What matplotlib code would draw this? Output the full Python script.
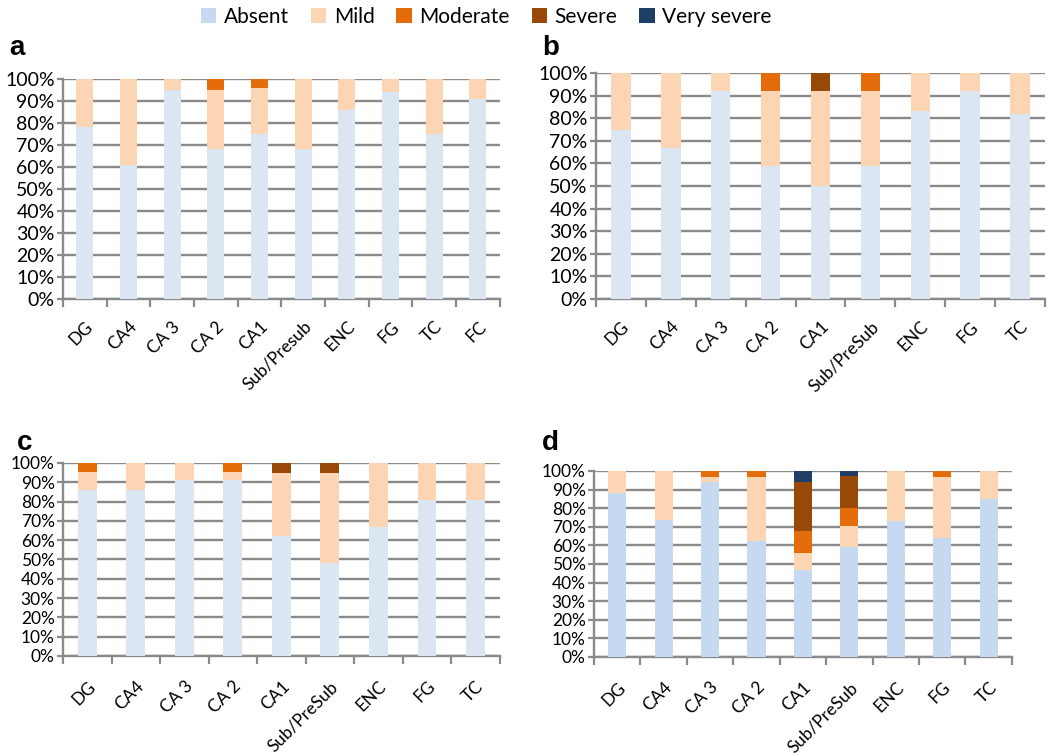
# -*- coding: utf-8 -*-
import numpy as np
import matplotlib.pyplot as plt
import matplotlib as mpl
from matplotlib.patches import Patch

mpl.rcParams['font.family'] = ['Lato', 'DejaVu Sans']

# 各面板的区域名称
regions_a = ['DG', 'CA4', 'CA 3', 'CA 2', 'CA1', 'Sub/Presub', 'ENC', 'FG', 'TC', 'FC']
regions_bcd = ['DG', 'CA4', 'CA 3', 'CA 2', 'CA1', 'Sub/PreSub', 'ENC', 'FG', 'TC']

# 面板 a（百分比）
absent_a = [78, 61, 95, 68, 75, 68, 86, 94, 75, 91]
mild_a = [22, 39, 5, 27, 21, 32, 14, 6, 25, 9]
moderate_a = [0, 0, 0, 5, 4, 0, 0, 0, 0, 0]
severe_a = [0] * 10
very_severe_a = [0] * 10

# 面板 b
absent_b = [75, 67, 92, 59, 50, 59, 83, 92, 82]
mild_b = [25, 33, 8, 33, 42, 33, 17, 8, 18]
moderate_b = [0, 0, 0, 8, 0, 8, 0, 0, 0]
severe_b = [0, 0, 0, 0, 8, 0, 0, 0, 0]
very_severe_b = [0] * 9

# 面板 c
absent_c = [86, 86, 91, 91, 62, 48, 67, 81, 81]
mild_c = [9.5, 14, 9, 4.5, 33, 47, 33, 19, 19]
moderate_c = [4.5, 0, 0, 4.5, 0, 0, 0, 0, 0]
severe_c = [0, 0, 0, 0, 5, 5, 0, 0, 0]
very_severe_c = [0] * 9

# 面板 d
absent_d = [88, 73.5, 94, 62.5, 47, 59, 73, 64, 85]
mild_d = [12, 26.5, 3, 34.5, 9, 11.5, 27, 33, 15]
moderate_d = [0, 0, 3, 3, 12, 9.5, 0, 3, 0]
severe_d = [0, 0, 0, 0, 26, 17.5, 0, 0, 0]
very_severe_d = [0, 0, 0, 0, 6, 2.5, 0, 0, 0]

levels = ['Absent', 'Mild', 'Moderate', 'Severe', 'Very severe']
colors = ['#dce6f2', '#fcd5b4', '#e46c0a', '#984807', '#1f3f66']
colors_d = ['#c6d9f0', '#fcd5b4', '#e46c0a', '#984807', '#1f3f66']

GRID = '#8a8a8a'


def plot_panel(fig, rect, letter, regions, series, cols, ysize, xpad, letter_pos):
    """
    绘制一个堆积百分比柱状图
    """
    ax = fig.add_axes(rect)
    x = np.arange(len(regions))
    bottom = np.zeros(len(regions))
    for vals, c in zip(series, cols):
        vals = np.array(vals, dtype=float)
        ax.bar(x, vals, 0.39, bottom=bottom, color=c, linewidth=0, zorder=3)
        bottom += vals
    ax.set_xlim(-0.5, len(regions) - 0.5)
    ax.set_ylim(0, 100)
    ax.set_yticks(np.arange(0, 101, 10))
    ax.set_yticklabels(['%d%%' % v for v in range(0, 101, 10)], fontsize=ysize)
    ax.yaxis.grid(True, color=GRID, linewidth=1.7, zorder=0)
    ax.set_axisbelow(True)
    for s in ['top', 'right']:
        ax.spines[s].set_visible(False)
    for s in ['left', 'bottom']:
        ax.spines[s].set_color(GRID)
        ax.spines[s].set_linewidth(1.7)
    ax.tick_params(axis='y', length=4, width=1.6, color=GRID, pad=2)
    # 类别标签（刻度线位于类别之间）
    ax.set_xticks(x)
    ax.set_xticklabels(regions, rotation=45, ha='right', va='top',
                       rotation_mode='anchor', fontsize=12.5)
    ax.tick_params(axis='x', which='major', length=0, pad=xpad)
    ax.set_xticks(np.arange(len(regions) + 1) - 0.5, minor=True)
    ax.tick_params(axis='x', which='minor', length=6, width=1.6, color=GRID)
    fig.text(letter_pos[0], letter_pos[1], letter, fontsize=20, fontweight='bold',
             family=['Liberation Sans', 'DejaVu Sans'], ha='left', va='baseline')
    return ax


def main():
    fig = plt.figure(figsize=(10.5, 7.56), dpi=100)

    plot_panel(fig, [0.060, 0.6045, 0.416, 0.291], 'a', regions_a,
               [absent_a, mild_a, moderate_a, severe_a, very_severe_a],
               colors, 14, 14, (0.009, 0.927))
    plot_panel(fig, [0.5676, 0.6045, 0.4276, 0.2989], 'b', regions_bcd,
               [absent_b, mild_b, moderate_b, severe_b, very_severe_b],
               colors, 14, 14, (0.516, 0.927))
    plot_panel(fig, [0.060, 0.1323, 0.416, 0.2553], 'c', regions_bcd,
               [absent_c, mild_c, moderate_c, severe_c, very_severe_c],
               colors, 12.5, 16, (0.016, 0.405))
    plot_panel(fig, [0.5657, 0.131, 0.398, 0.246], 'd', regions_bcd,
               [absent_d, mild_d, moderate_d, severe_d, very_severe_d],
               colors_d, 12.5, 16, (0.516, 0.405))

    handles = [Patch(facecolor=c, edgecolor='none') for c in colors_d]
    fig.legend(handles, levels, loc='upper center', bbox_to_anchor=(0.463, 1.016),
               ncol=5, frameon=False, fontsize=15, handlelength=0.75,
               handleheight=0.75, handletextpad=0.35, columnspacing=1.05)

    plt.savefig('out.png', dpi=100)


if __name__ == "__main__":
    main()
